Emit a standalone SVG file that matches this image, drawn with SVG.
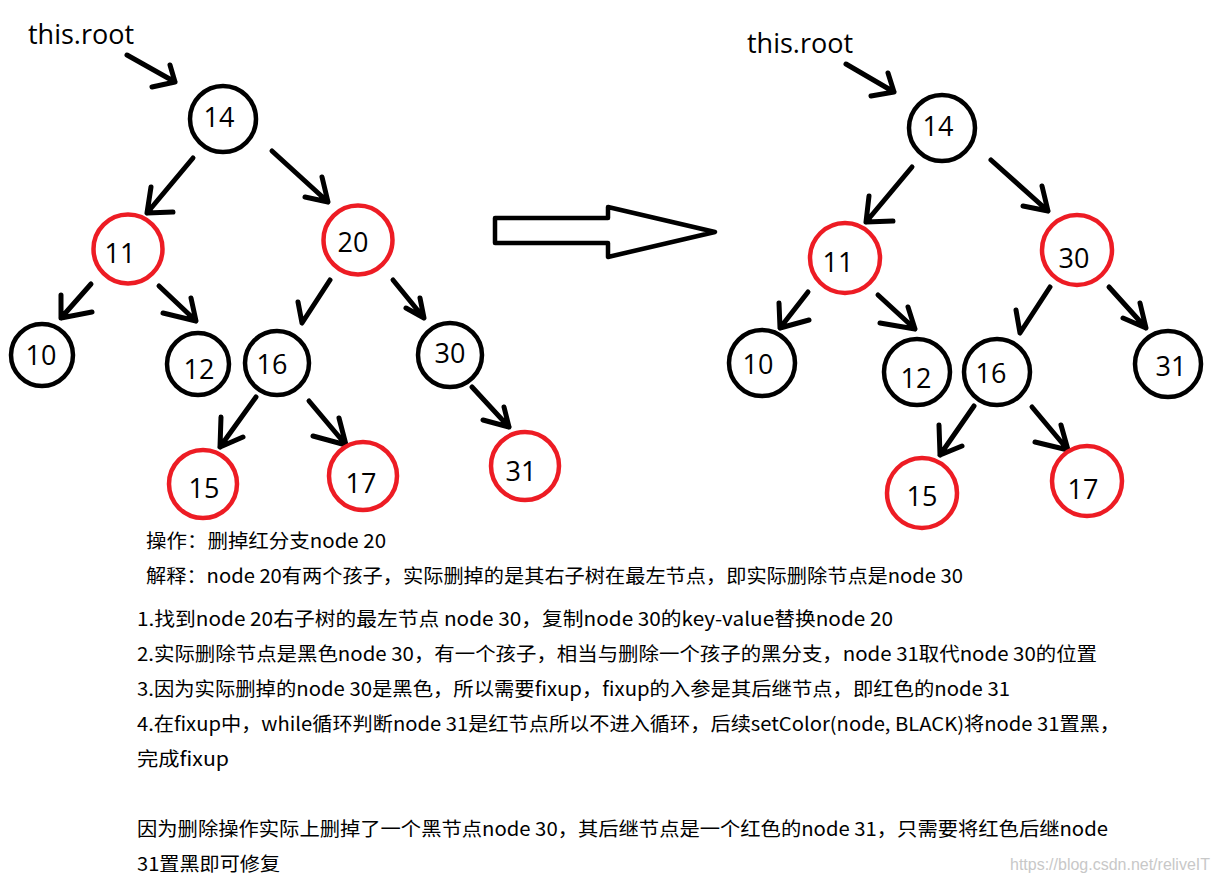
<svg xmlns="http://www.w3.org/2000/svg" width="1215" height="884" viewBox="0 0 1215 884">
<style>
.bk{fill:none;stroke:#000;stroke-width:4.5}
.rd{fill:none;stroke:#ed1c24;stroke-width:4.5}
.num{font-family:"Open Sans","Noto Sans",sans-serif;font-size:27px;fill:#000;text-anchor:middle}
.lbl{font-family:"Open Sans","Noto Sans",sans-serif;font-size:27px;fill:#000}
.tx{font-family:"Noto Sans CJK SC","Noto Sans",sans-serif;font-size:19px;fill:#000}
.wm{font-family:"Liberation Sans",sans-serif;font-size:16px;fill:#c8c8c8}
#edges path{fill:none;stroke:#000;stroke-width:5;stroke-linecap:round;stroke-linejoin:round}
</style>
<rect width="1215" height="884" fill="#fff"/>
<g id="edges">
<!-- left tree -->
<path d="M127 55L175 82M152 87L175 82L170 65"/>
<path d="M193 158L147 213M151 187L147 213L173 212"/>
<path d="M272 151L328 202M305 197L328 202L322 177"/>
<path d="M91 284L61 318M61 295L61 318L92 312"/>
<path d="M159 286L196 321M163 313L196 321L191 298"/>
<path d="M330 280L302 323L298 302"/>
<path d="M393 280L424 318M406 308L424 318L420 298"/>
<path d="M256 397L220 447M221 417L220 447L243 437"/>
<path d="M309 401L346 445M313 436L346 445L339 418"/>
<path d="M472 387L509 427M483 420L509 427L504 407"/>
<!-- big arrow -->
<path d="M495 218H608V207L715 232L608 257V243H495Z" style="stroke-width:4.5"/>
<!-- right tree -->
<path d="M846 64L894 92M871 96L894 92L888 73"/>
<path d="M912 167L866 222M869 196L866 222L893 221"/>
<path d="M991 160L1048 211M1023 206L1048 211L1042 186"/>
<path d="M808 292L780 328M779 303L780 328L809 320"/>
<path d="M878 295L915 329M880 323L915 329L908 307"/>
<path d="M1050 287L1020 333L1016 310"/>
<path d="M1109 287L1146 328M1123 318L1146 328L1140 303"/>
<path d="M974 406L940 455M939 425L940 455L962 446"/>
<path d="M1032 407L1068 450M1035 442L1068 450L1061 425"/>
</g>
<text class="lbl" x="28" y="44">this.root</text>
<text class="lbl" x="747" y="53">this.root</text>
<g id="L14"><circle class="bk" cx="223" cy="119" r="33"/><text class="num" x="219" y="127">14</text></g>
<g id="L11"><circle class="rd" cx="128" cy="249" r="34.5"/><text class="num" x="120" y="263">11</text></g>
<g id="L20"><circle class="rd" cx="358" cy="240" r="34.5"/><text class="num" x="353" y="252">20</text></g>
<g id="L10"><circle class="bk" cx="42" cy="355" r="31"/><text class="num" x="41" y="365">10</text></g>
<g id="L12"><circle class="bk" cx="198" cy="364" r="31"/><text class="num" x="199" y="379">12</text></g>
<g id="L16"><circle class="bk" cx="277" cy="363" r="32"/><text class="num" x="272" y="374">16</text></g>
<g id="L30"><circle class="bk" cx="450" cy="355" r="32"/><text class="num" x="450" y="363">30</text></g>
<g id="L15"><circle class="rd" cx="203" cy="484" r="34"/><text class="num" x="204" y="498">15</text></g>
<g id="L17"><circle class="rd" cx="363" cy="476" r="34"/><text class="num" x="361" y="493">17</text></g>
<g id="L31"><circle class="rd" cx="525" cy="466" r="34"/><text class="num" x="521" y="481">31</text></g>
<g id="R14"><circle class="bk" cx="942" cy="128" r="33"/><text class="num" x="938" y="136">14</text></g>
<g id="R11"><circle class="rd" cx="845" cy="258" r="35"/><text class="num" x="838" y="272">11</text></g>
<g id="R30"><circle class="rd" cx="1077" cy="250" r="35"/><text class="num" x="1074" y="268">30</text></g>
<g id="R10"><circle class="bk" cx="762" cy="363" r="33"/><text class="num" x="758" y="374">10</text></g>
<g id="R12"><circle class="bk" cx="917" cy="372" r="33"/><text class="num" x="916" y="388">12</text></g>
<g id="R16"><circle class="bk" cx="997" cy="372" r="33"/><text class="num" x="991" y="383">16</text></g>
<g id="R31"><circle class="bk" cx="1168" cy="364" r="33"/><text class="num" x="1171" y="376">31</text></g>
<g id="R15"><circle class="rd" cx="922" cy="493" r="35"/><text class="num" x="922" y="506">15</text></g>
<g id="R17"><circle class="rd" cx="1087" cy="481" r="35"/><text class="num" x="1083" y="499">17</text></g>
<g id="notes">
<text class="tx" x="146" y="548" textLength="240" lengthAdjust="spacingAndGlyphs">操作：删掉红分支node 20</text>
<text class="tx" x="146" y="583" textLength="817" lengthAdjust="spacingAndGlyphs">解释：node 20有两个孩子，实际删掉的是其右子树在最左节点，即实际删除节点是node 30</text>
<text class="tx" x="137" y="626" textLength="756" lengthAdjust="spacingAndGlyphs">1.找到node 20右子树的最左节点 node 30，复制node 30的key-value替换node 20</text>
<text class="tx" x="137" y="661" textLength="960" lengthAdjust="spacingAndGlyphs">2.实际删除节点是黑色node 30，有一个孩子，相当与删除一个孩子的黑分支，node 31取代node 30的位置</text>
<text class="tx" x="137" y="696" textLength="873" lengthAdjust="spacingAndGlyphs">3.因为实际删掉的node 30是黑色，所以需要fixup，fixup的入参是其后继节点，即红色的node 31</text>
<text class="tx" x="137" y="731" textLength="983" lengthAdjust="spacingAndGlyphs">4.在fixup中，while循环判断node 31是红节点所以不进入循环，后续setColor(node, BLACK)将node 31置黑，</text>
<text class="tx" x="137" y="766" textLength="92" lengthAdjust="spacingAndGlyphs">完成fixup</text>
<text class="tx" x="137" y="836" textLength="971" lengthAdjust="spacingAndGlyphs">因为删除操作实际上删掉了一个黑节点node 30，其后继节点是一个红色的node 31，只需要将红色后继node</text>
<text class="tx" x="137" y="871" textLength="143" lengthAdjust="spacingAndGlyphs">31置黑即可修复</text>
<text class="wm" x="1010" y="870" textLength="200" lengthAdjust="spacingAndGlyphs">https://blog.csdn.net/reliveIT</text>
</g>
</svg>
